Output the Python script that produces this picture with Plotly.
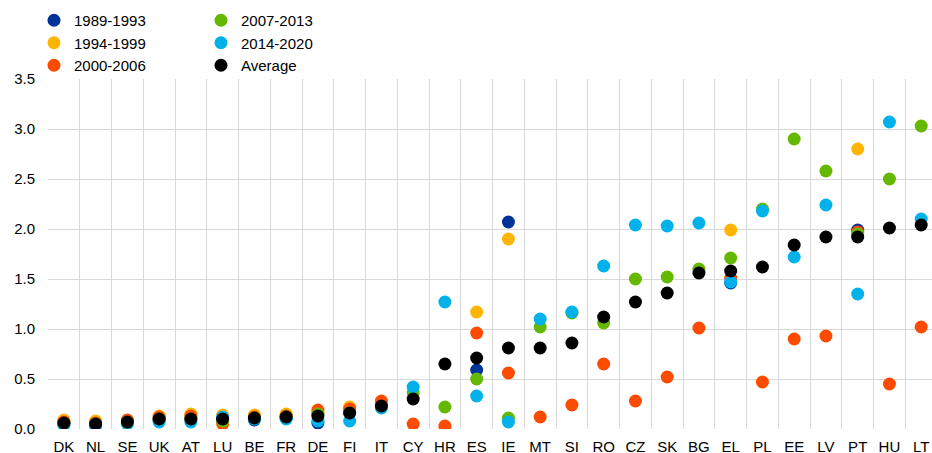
import plotly.graph_objects as go

countries = ["DK", "NL", "SE", "UK", "AT", "LU", "BE", "FR", "DE", "FI", "IT", "CY", "HR", "ES",
             "IE", "MT", "SI", "RO", "CZ", "SK", "BG", "EL", "PL", "EE", "LV", "PT", "HU", "LT"]

p1989_1993 = [0.05, 0.04, None, 0.09, None, 0.09, 0.09, 0.11, 0.06, None, 0.22, None, None, 0.59,
              2.07, None, None, None, None, None, None, 1.46, None, None, None, 1.99, None, None]
p1994_1999 = [0.09, 0.08, 0.08, 0.13, 0.15, 0.14, 0.14, 0.15, 0.16, 0.22, 0.25, None, None, 1.17,
              1.90, None, None, None, None, None, None, 1.99, None, None, None, 2.80, None, None]
p2000_2006 = [0.07, 0.06, 0.09, 0.12, 0.13, 0.05, 0.12, 0.13, 0.19, 0.20, 0.28, 0.05, 0.03, 0.96,
              0.56, 0.12, 0.24, 0.65, 0.28, 0.52, 1.01, 1.51, 0.47, 0.90, 0.93, 1.97, 0.45, 1.02]
p2007_2013 = [0.05, 0.05, 0.07, 0.10, 0.10, 0.08, 0.11, 0.12, 0.15, 0.16, 0.22, 0.36, 0.22, 0.50,
              0.11, 1.02, 1.16, 1.06, 1.50, 1.52, 1.60, 1.71, 2.20, 2.90, 2.58, 1.95, 2.50, 3.03]
p2014_2020 = [0.04, 0.03, 0.05, 0.07, 0.07, 0.12, 0.10, 0.10, 0.08, 0.08, 0.21, 0.42, 1.27, 0.33,
              0.07, 1.10, 1.17, 1.63, 2.04, 2.03, 2.06, 1.47, 2.18, 1.72, 2.24, 1.35, 3.07, 2.10]
average = [0.06, 0.05, 0.07, 0.10, 0.10, 0.10, 0.11, 0.12, 0.13, 0.16, 0.23, 0.30, 0.65, 0.71,
           0.81, 0.81, 0.86, 1.12, 1.27, 1.36, 1.56, 1.58, 1.62, 1.84, 1.92, 1.92, 2.01, 2.04]

series = [
    ("1989-1993", p1989_1993, "#003299", "legend"),
    ("1994-1999", p1994_1999, "#FFB400", "legend"),
    ("2000-2006", p2000_2006, "#FF4B00", "legend"),
    ("2007-2013", p2007_2013, "#65B800", "legend2"),
    ("2014-2020", p2014_2020, "#00B1EA", "legend2"),
    ("Average", average, "#000000", "legend2"),
]

FONT = "Liberation Sans, Arial, sans-serif"
W, H, B = 932, 453, 24
PH = H - B  # paper height

fig = go.Figure()
for name, vals, color, leg in series:
    fig.add_trace(go.Scatter(
        x=countries, y=vals, name=name, mode="markers",
        marker=dict(color=color, size=13, line=dict(width=0)),
        legend=leg,
    ))

legend_common = dict(
    font=dict(family=FONT, size=15, color="#000000"),
    bgcolor="rgba(0,0,0,0)", borderwidth=0,
    xanchor="left", yanchor="top", orientation="v",
    tracegroupgap=0,
)

fig.update_layout(
    width=W, height=H,
    margin=dict(l=0, r=0, t=0, b=B, autoexpand=False),
    paper_bgcolor="white", plot_bgcolor="white",
    font=dict(family=FONT, size=15, color="#000000"),
    showlegend=True,
    legend=dict(**legend_common, x=34 / W, y=(PH - 4) / PH),
    legend2=dict(**legend_common, x=201 / W, y=(PH - 4) / PH),
    xaxis=dict(
        domain=[48 / W, 1],
        type="category", categoryorder="array", categoryarray=countries,
        range=[-0.5, 27.34], tickson="boundaries", ticks="",
        tickangle=0, automargin=False, ticklabelstandoff=7,
        showgrid=True, gridcolor="#D9D9D9", gridwidth=1,
        showline=False, zeroline=False,
        tickfont=dict(family=FONT, size=15, color="#000000"),
    ),
    yaxis=dict(
        domain=[0, 350 / PH],
        range=[0, 3.5], dtick=0.5, tickformat=".1f",
        showgrid=True, gridcolor="#D9D9D9", gridwidth=1,
        zeroline=False, showline=False, ticks="", automargin=False,
        ticklabelstandoff=12,
        tickfont=dict(family=FONT, size=15, color="#000000"),
    ),
)

fig.write_html("out.html", config={"displayModeBar": False},
               post_script="document.body.style.margin='0';")
